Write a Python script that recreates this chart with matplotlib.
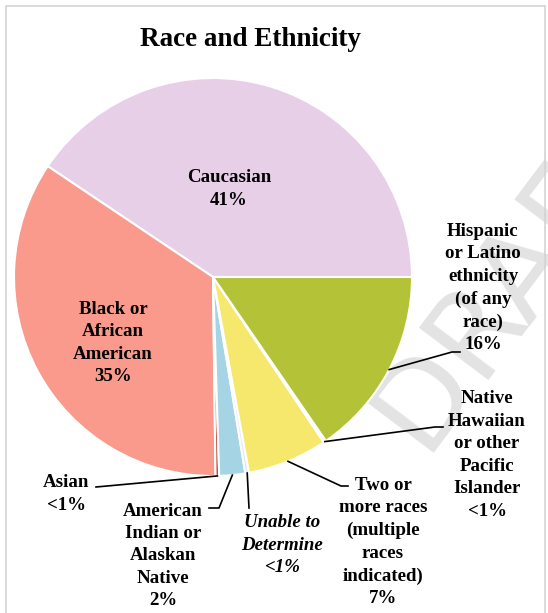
import numpy as np
import matplotlib.pyplot as plt
from matplotlib.patches import Rectangle

# figure size in pixels and pie placement (centre / radius in px)
W, H = 548, 613
CX, CY, R = 213, 277, 199

categories = [
    "Caucasian",
    "Black or\nAfrican\nAmerican",
    "Asian",
    "American\nIndian or\nAlaskan\nNative",
    "Unable to\nDetermine",
    "Two or\nmore races\n(multiple\nraces\nindicated)",
    "Native\nHawaiian\nor other\nPacific\nIslander",
    "Hispanic\nor Latino\nethnicity\n(of any\nrace)",
]
shares = [40.6, 34.6, 0.3, 2.1, 0.3, 6.5, 0.2, 15.4]
pct_labels = ["41%", "35%", "<1%", "2%", "<1%", "7%", "<1%", "16%"]
colors = ["#E8CFE8", "#F99A8C", "#C0504D", "#A5D5E4",
          "#E6E6E6", "#F6E86C", "#E6E6E6", "#B3C237"]

# label centres (px) and leader-line bends (px), None = label inside slice
label_pos = [(229, 189), (113, 343), (66, 494), (163, 556),
             (282, 545), (383, 542), (487, 455), (483, 288)]
leaders = [None, None,
           [(96, 487)],
           [(219, 508), (209, 508)],
           [(249, 508)],
           [(341, 486), (348, 486)],
           [(435, 427), (443, 427)],
           [(452, 352), (460, 352)]]


def to_data(px, py):
    """Pixel position (from top-left) -> data coords where pie radius = 1."""
    return (px - CX) / R, (CY - py) / R


SERIF = ["Liberation Serif", "DejaVu Serif"]

fig = plt.figure(figsize=(W / 100, H / 100), dpi=100)
ax = fig.add_axes([0, 0, 1, 1])

wedges, _ = ax.pie(shares, colors=colors, startangle=0, counterclock=True,
                   radius=1, center=(0, 0),
                   wedgeprops=dict(edgecolor="white", linewidth=1.5))

ax.set_xlim(-CX / R, (W - CX) / R)
ax.set_ylim(-(H - CY) / R, CY / R)
ax.set_aspect("auto")
ax.axis("off")

for i, w in enumerate(wedges):
    style = "italic" if categories[i].startswith("Unable") else "normal"
    tx, ty = to_data(*label_pos[i])
    ax.text(tx, ty, categories[i] + "\n" + pct_labels[i], ha="center", va="center",
            multialignment="center", fontsize=13.6, fontweight="bold",
            fontstyle=style, family=SERIF, linespacing=1.42, zorder=5)

    if leaders[i] is not None:
        mid = np.deg2rad((w.theta1 + w.theta2) / 2)
        xs = [np.cos(mid)]
        ys = [np.sin(mid)]
        for p in leaders[i]:
            x, y = to_data(*p)
            xs.append(x)
            ys.append(y)
        ax.plot(xs, ys, color="black", linewidth=1.2, zorder=4)

# title
tx, ty = to_data(250, 40)
ax.text(tx, ty, "Race and Ethnicity", ha="center", va="center", fontsize=19.5,
        fontweight="bold", family=SERIF)

# watermark
wx, wy = to_data(422, 453)
ax.text(wx, wy, "DRAFT", rotation=53, rotation_mode="anchor", ha="left",
        va="baseline", fontsize=86, color="#E3E3E3", family="DejaVu Sans",
        zorder=0)

# chart-area border
fig.patches.append(Rectangle((6 / W, -0.05), (545 - 6) / W, 1.05 - 6 / H,
                             transform=fig.transFigure, fill=False,
                             edgecolor="#D4D4D4", linewidth=1.2))

fig.savefig("out.png", dpi=100)
